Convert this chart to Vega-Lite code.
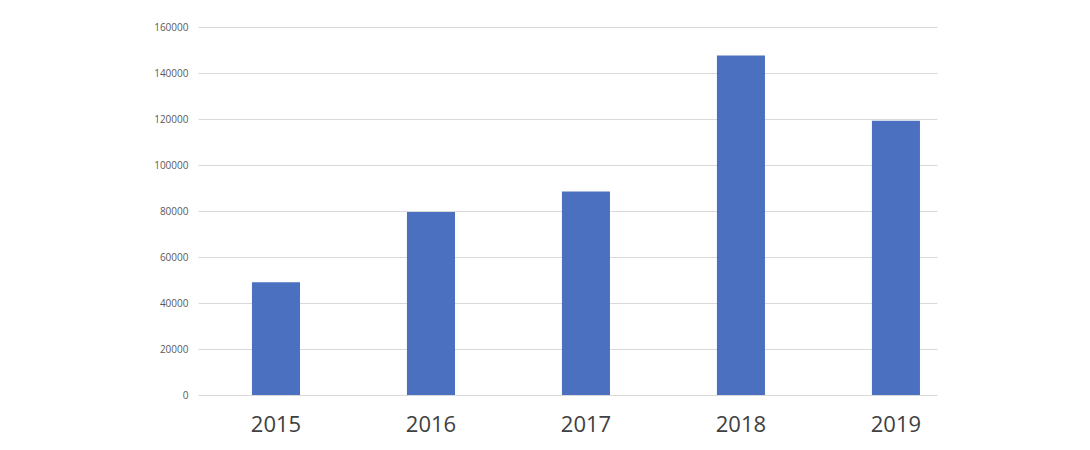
{
  "$schema": "https://vega.github.io/schema/vega-lite/v6.json",
  "autosize": "none",
  "width": 739,
  "height": 368,
  "padding": {"left": 198, "top": 27, "right": 153, "bottom": 55},
  "background": "white",
  "data": {
    "values": [
      {"year": "2015", "value": 49000},
      {"year": "2016", "value": 79600},
      {"year": "2017", "value": 88500},
      {"year": "2018", "value": 147600},
      {"year": "2019", "value": 119200}
    ]
  },
  "mark": {"type": "bar", "color": "#4A70BF"},
  "encoding": {
    "x": {
      "field": "year",
      "type": "ordinal",
      "title": null,
      "scale": {"paddingInner": 0.69, "paddingOuter": 0.229, "align": 0.76},
      "axis": {
        "domain": false,
        "ticks": false,
        "labelAngle": 0,
        "labelFont": "Open Sans",
        "labelFontSize": 22,
        "labelColor": "#404040",
        "labelPadding": 19
      }
    },
    "y": {
      "field": "value",
      "type": "quantitative",
      "title": null,
      "scale": {"domain": [0, 160000]},
      "axis": {
        "values": [0, 20000, 40000, 60000, 80000, 100000, 120000, 140000, 160000],
        "format": "d",
        "domain": false,
        "ticks": false,
        "labelFont": "Open Sans",
        "labelFontSize": 10,
        "labelColor": "#595959",
        "labelPadding": 10,
        "gridColor": "#d9d9d9",
        "gridWidth": 1
      }
    }
  },
  "config": {"view": {"stroke": null}}
}
